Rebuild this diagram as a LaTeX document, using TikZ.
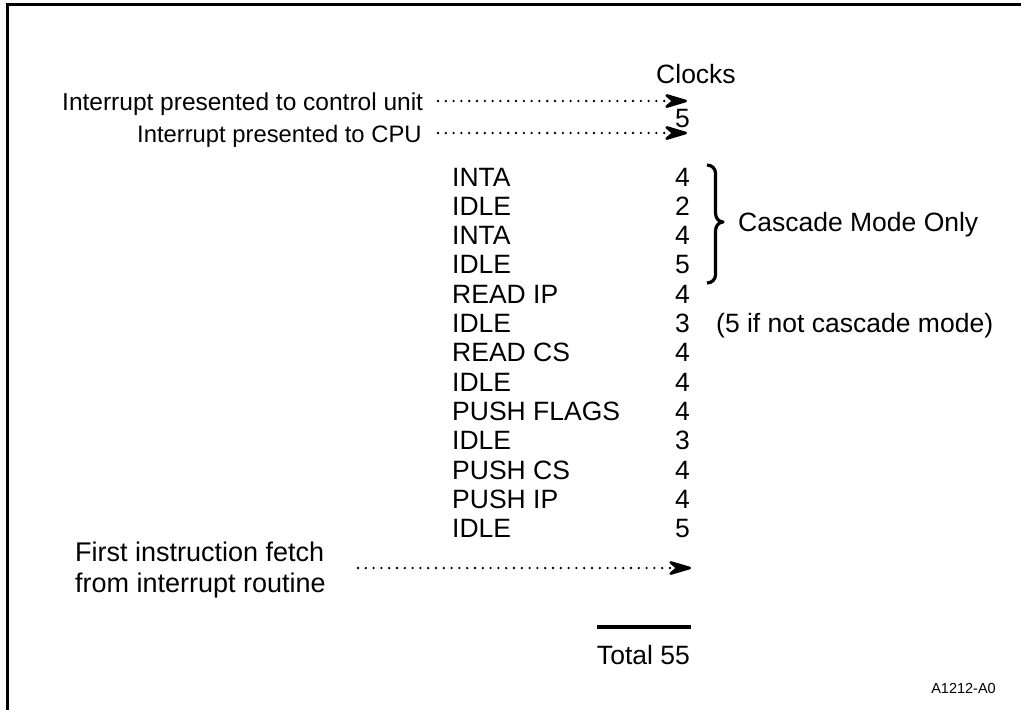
\documentclass[tikz,border=0pt]{standalone}
\usepackage{fontspec}
\setmainfont{Liberation Sans}
\usetikzlibrary{arrows.meta}
\tikzset{
  lbl/.style={inner sep=0pt, font=\fontsize{26.5}{30}\selectfont},
  toplbl/.style={inner sep=0pt, anchor=base west},
  rowlbl/.style={lbl, anchor=base west},
  rownum/.style={lbl, anchor=base east},
  dotarrow/.style={line width=2.6, line cap=round, dash pattern=on 0pt off 7.8pt,
     -{Stealth[length=29pt,width=17pt,line cap=butt,round=false,inset=10pt]}},
  frame/.style={line width=3},
  heavy/.style={line width=3.2}
}
\begin{document}
\begin{tikzpicture}[x=1pt,y=-1pt]
\useasboundingbox (0,0) rectangle (1021,710);
\draw[frame] (1021,4) -- (7.3,4) -- (7.3,710);

\node[lbl, anchor=base] (clocks) at (696,83) {Clocks};
\node[toplbl, font=\fontsize{24.5}{30}\selectfont] (ipcu) at (62,110) {Interrupt presented to control unit};
\coordinate (a1s) at (438,101);
\coordinate (a1e) at (687,101);
\draw[dotarrow] (a1s) -- (a1e);

\node[rownum] (five) at (690,127) {5};
\node[toplbl, font=\fontsize{23.8}{30}\selectfont] (ipcpu) at (137,142) {Interrupt presented to CPU};
\coordinate (a2s) at (438,133);
\coordinate (a2e) at (687,133);
\draw[dotarrow] (a2s) -- (a2e);

\foreach \i/\t/\n in {0/INTA/4,1/IDLE/2,2/INTA/4,3/IDLE/5,4/READ IP/4,5/IDLE/3,6/READ CS/4,7/IDLE/4,8/PUSH FLAGS/4,9/IDLE/3,10/PUSH CS/4,11/PUSH IP/4,12/IDLE/5}{
  \node[rowlbl] (r\i) at (452,{186+29.3*\i}) {\t};
  \node[rownum] (n\i) at (690,{186+29.3*\i}) {\n};
}

\coordinate (bt) at (707,165);
\coordinate (bb) at (707,283);
\draw[heavy, line join=round] (bt) to[out=0,in=90] (715.5,173) -- (715.5,213)
   to[out=-90,in=180] (723,222) to[out=180,in=90] (715.5,231) -- (715.5,275)
   to[out=-90,in=0] (bb);
\node[lbl, anchor=base west] (cmo) at (738,231) {Cascade Mode Only};
\node[lbl, anchor=base west] (nc) at (716,{186+29.3*5}) {(5 if not cascade mode)};

\node[lbl, anchor=base west, font=\fontsize{27}{30}\selectfont] (fif1) at (75,561) {First instruction fetch};
\node[lbl, anchor=base west, font=\fontsize{27}{30}\selectfont] (fif2) at (75,592) {from interrupt routine};
\coordinate (a3s) at (358,568);
\coordinate (a3e) at (691,568);
\draw[dotarrow] (a3s) -- (a3e);

\coordinate (tl) at (597,627);
\coordinate (tr) at (691,627);
\draw[heavy] (tl) -- (tr);
\node[rownum] (total) at (690,664) {Total 55};

\node[inner sep=0pt, anchor=base east, font=\fontsize{14.5}{16}\selectfont] (code) at (996,693) {A1212-A0};
\end{tikzpicture}
\end{document}
